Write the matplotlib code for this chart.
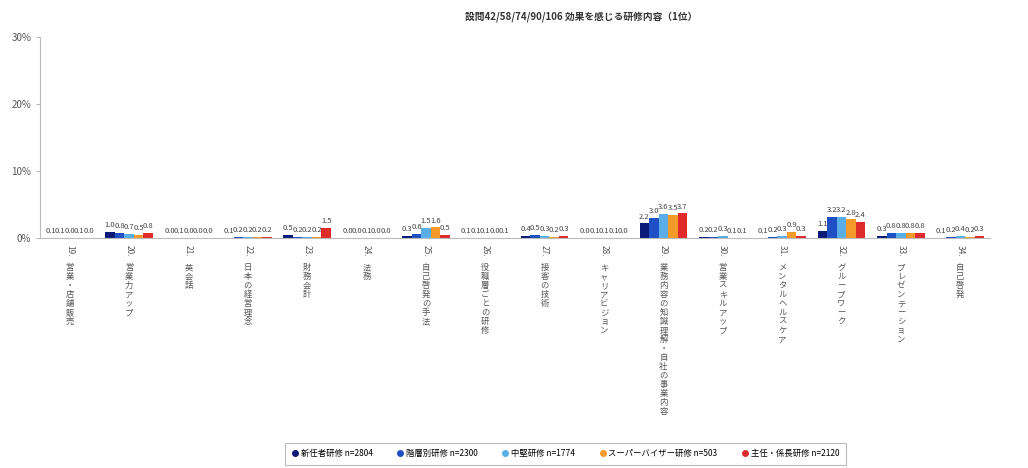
import numpy as np
import matplotlib.pyplot as plt
from matplotlib.lines import Line2D

plt.rcParams['font.family'] = ['Noto Sans CJK JP', 'DejaVu Sans']

title = "設問42/58/74/90/106 効果を感じる研修内容（1位）"

categories = [
    "19.営業・店舗販売", "20.営業力アップ", "21.英会話", "22.日本の経営理念",
    "23.財務会計", "24.法務", "25.自己啓発の手法", "26.役職層ごとの研修",
    "27.接客の技術", "28.キャリアビジョン", "29.業務内容の知識理解・自社の事業内容",
    "30.営業スキルアップ", "31.メンタルヘルスケア", "32.グループワーク",
    "33.プレゼンテーション", "34.自己啓発",
]

series = [
    "新任者研修 n=2804",
    "階層別研修 n=2300",
    "中堅研修 n=1774",
    "スーパーバイザー研修 n=503",
    "主任・係長研修 n=2120",
]

values = [
    [0.1, 1.0, 0.0, 0.1, 0.5, 0.0, 0.3, 0.1, 0.4, 0.0, 2.2, 0.2, 0.1, 1.1, 0.3, 0.1],
    [0.1, 0.8, 0.1, 0.2, 0.2, 0.0, 0.6, 0.1, 0.5, 0.1, 3.0, 0.2, 0.2, 3.2, 0.8, 0.2],
    [0.0, 0.7, 0.0, 0.2, 0.2, 0.1, 1.5, 0.1, 0.3, 0.1, 3.6, 0.3, 0.3, 3.2, 0.8, 0.4],
    [0.1, 0.5, 0.0, 0.2, 0.2, 0.0, 1.6, 0.0, 0.2, 0.1, 3.5, 0.1, 0.9, 2.8, 0.8, 0.2],
    [0.0, 0.8, 0.0, 0.2, 1.5, 0.0, 0.5, 0.1, 0.3, 0.0, 3.7, 0.1, 0.3, 2.4, 0.8, 0.3],
]

colors = ["#0b1a78", "#1f4fc4", "#5aaee8", "#f39a2b", "#e02b2b"]

fig = plt.figure(figsize=(10.28, 4.68), dpi=100)
ax = fig.add_axes([0.039, 0.491, 0.924, 0.43])

x = np.arange(len(categories))
w = 0.16
for i, (name, vals, c) in enumerate(zip(series, values, colors)):
    pos = x + (i - 2) * w
    ax.bar(pos, vals, width=w, color=c)
    for px, v in zip(pos, vals):
        ax.annotate(f"{v:.1f}", (px, v), xytext=(0, 2), textcoords="offset points",
                    ha="center", va="bottom", fontsize=5.5, color="#444444")

ax.set_xlim(-0.5, len(categories) - 0.5)
ax.set_ylim(0, 30)
ax.set_yticks([0, 10, 20, 30])
ax.set_yticklabels(["0%", "10%", "20%", "30%"], fontsize=7, color="#555555")
ax.set_xticks([])
for s in ["top", "right"]:
    ax.spines[s].set_visible(False)
for s in ["left", "bottom"]:
    ax.spines[s].set_color("#bbbbbb")
ax.tick_params(axis="y", length=3, color="#bbbbbb")

# vertical (stacked) category labels: number rotated, characters stacked
for xi, lab in zip(x, categories):
    num, rest = lab.split(".", 1)
    ax.annotate(num + ".", (xi, 0), xytext=(0, -5), textcoords="offset points",
                ha="center", va="top", rotation=270, fontsize=6, color="#555555")
    ax.annotate("\n".join(rest), (xi, 0), xytext=(0, -18), textcoords="offset points",
                ha="center", va="top", fontsize=6, color="#555555", linespacing=1.0)

fig.text(0.565, 0.965, title, ha="center", va="center", fontsize=7, fontweight="bold",
         color="#333333")

handles = [Line2D([], [], marker="o", linestyle="none", color=c, markersize=4)
           for c in colors]
leg = fig.legend(handles, series, loc="lower center", bbox_to_anchor=(0.55, 0.003),
                 ncol=5, fontsize=6, frameon=True, handlelength=0.8,
                 columnspacing=2.9, handletextpad=0.3, borderpad=0.5)
leg.get_frame().set_edgecolor("#aaaaaa")
leg.get_frame().set_linewidth(0.8)
leg.get_frame().set_boxstyle("square")

fig.savefig("out.png", dpi=100)
